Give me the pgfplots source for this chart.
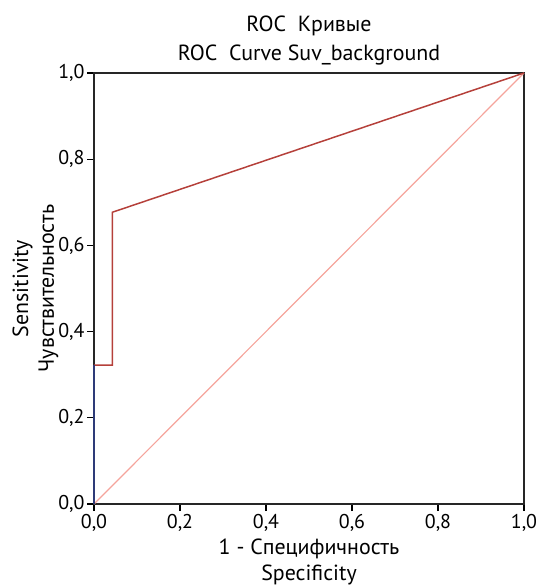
\documentclass[border=0pt]{standalone}
\usepackage{fontspec}
\setmainfont{PT Sans}
\usepackage{pgfplots}
\pgfplotsset{compat=1.18}
\definecolor{roccurve}{HTML}{B5403A}
\definecolor{refline}{HTML}{F5A49C}
\definecolor{navyseg}{HTML}{2E3B78}
\begin{document}
\begin{tikzpicture}
\begin{axis}[
    name=ax,
    scale only axis,
    width=430bp, height=431bp,
    xmin=0, xmax=1, ymin=0, ymax=1,
    xtick={0,0.2,...,1.0}, ytick={0,0.2,...,1.0},
    xtick pos=bottom, ytick pos=left,
    tick align=outside, major tick length=7bp,
    tick style={black, line width=1.2pt},
    axis line style={black!85, line width=1.6pt},
    /pgf/number format/use comma,
    /pgf/number format/fixed,
    /pgf/number format/fixed zerofill,
    /pgf/number format/precision=1,
    /pgf/number format/assume math mode=true,
    tick label style={font=\fontsize{20}{22}\selectfont},
    yticklabel style={xshift=1bp},
    label style={font=\fontsize{22}{26}\selectfont, align=center},
    title style={font=\fontsize{22}{29}\selectfont, align=center, yshift=-2bp},
    title={ROC\ \ Кривые\\ROC\ \ Curve Suv\_background},
    xlabel={1 - Специфичность\\Specificity},
    ylabel={Sensitivity\\Чувствительность},
    ylabel style={yshift=-7bp},
    clip=false,
]
\addplot[refline, line width=1.2pt] coordinates {(0,0) (1,1)};
\addplot[roccurve, line width=1.5pt] coordinates {(0,0.322) (0.043,0.322) (0.043,0.677) (1,1)};
\addplot[navyseg, line width=1.6pt] coordinates {(0,0) (0,0.322)};
\end{axis}
\pgfresetboundingbox
\path ([shift={(-94bp,-81bp)}]ax.south west) rectangle ([shift={(442bp,504bp)}]ax.south west);
\end{tikzpicture}
\end{document}
